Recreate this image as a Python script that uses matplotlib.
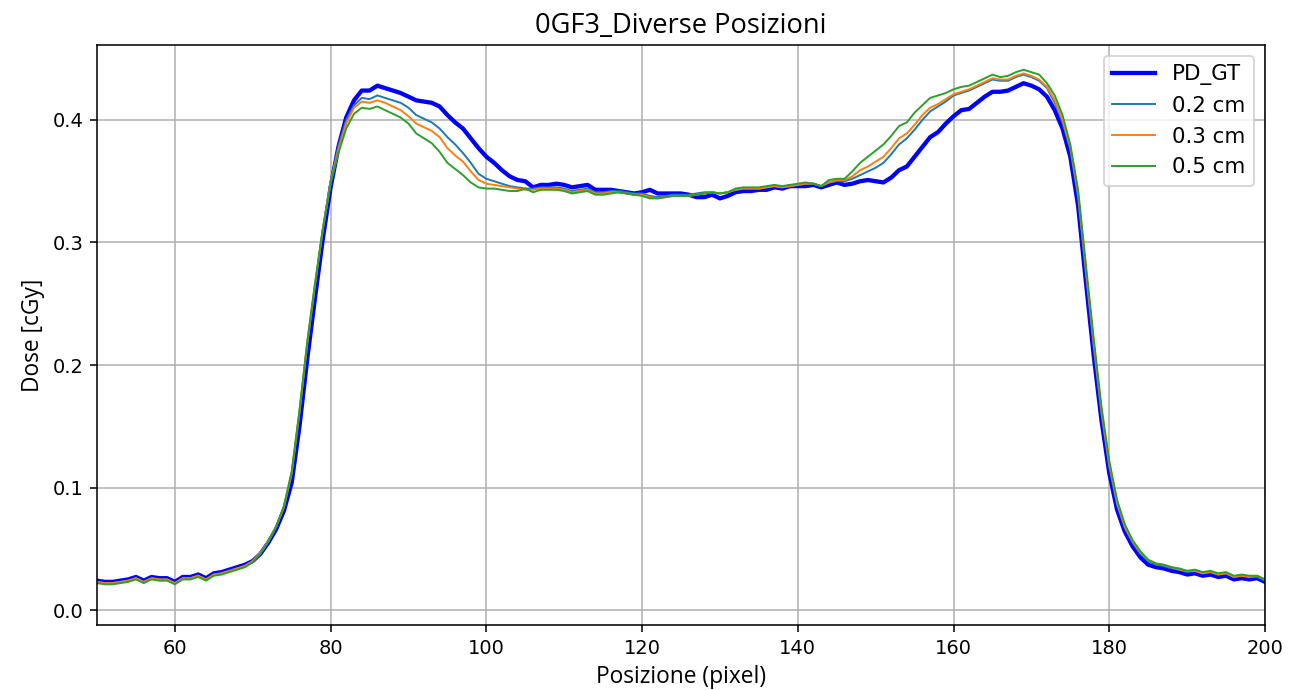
import numpy as np
import matplotlib
matplotlib.use("Agg")
import matplotlib.pyplot as plt

x = list(range(50, 201))

pd_gt = [
    0.024, 0.023, 0.023, 0.024, 0.025, 0.027, 0.024, 0.027, 0.026, 0.026,  # 50-59
    0.023, 0.027, 0.027, 0.029, 0.026, 0.030, 0.031, 0.033, 0.035, 0.037,  # 60-69
    0.040, 0.046, 0.055, 0.066, 0.081, 0.104, 0.150, 0.205, 0.255, 0.303,  # 70-79
    0.345, 0.378, 0.402, 0.416, 0.424, 0.424, 0.428, 0.426, 0.424, 0.422,  # 80-89
    0.419, 0.416, 0.415, 0.414, 0.411, 0.404, 0.398, 0.393, 0.385, 0.377,  # 90-99
    0.370, 0.365, 0.359, 0.354, 0.351, 0.350, 0.345, 0.347, 0.347, 0.348,  # 100-109
    0.347, 0.345, 0.346, 0.347, 0.343, 0.343, 0.343, 0.342, 0.341, 0.340,  # 110-119
    0.341, 0.343, 0.340, 0.340, 0.340, 0.340, 0.339, 0.337, 0.337, 0.339,  # 120-129
    0.336, 0.338, 0.341, 0.342, 0.342, 0.343, 0.343, 0.345, 0.344, 0.346,  # 130-139
    0.346, 0.346, 0.347, 0.345, 0.347, 0.349, 0.347, 0.348, 0.350, 0.351,  # 140-149
    0.350, 0.349, 0.353, 0.359, 0.362, 0.370, 0.378, 0.386, 0.390, 0.397,  # 150-159
    0.403, 0.408, 0.409, 0.414, 0.419, 0.423, 0.423, 0.424, 0.427, 0.430,  # 160-169
    0.428, 0.425, 0.419, 0.408, 0.393, 0.370, 0.330, 0.268, 0.208, 0.155,  # 170-179
    0.112, 0.082, 0.064, 0.052, 0.043, 0.037, 0.035, 0.034, 0.032, 0.031,  # 180-189
    0.029, 0.030, 0.028, 0.029, 0.027, 0.028, 0.025, 0.026, 0.025, 0.026,  # 190-199
    0.023,                                                                 # 200
]

cm02 = [
    0.023, 0.022, 0.022, 0.023, 0.024, 0.026, 0.023, 0.026, 0.025, 0.025,
    0.022, 0.026, 0.026, 0.028, 0.025, 0.029, 0.030, 0.032, 0.034, 0.036,
    0.040, 0.047, 0.056, 0.068, 0.084, 0.111, 0.161, 0.217, 0.265, 0.311,
    0.350, 0.379, 0.400, 0.412, 0.418, 0.417, 0.420, 0.418, 0.416, 0.414,
    0.410, 0.404, 0.401, 0.398, 0.393, 0.386, 0.380, 0.373, 0.365, 0.356,
    0.352, 0.350, 0.348, 0.346, 0.345, 0.344, 0.344, 0.345, 0.345, 0.345,
    0.344, 0.342, 0.343, 0.344, 0.341, 0.341, 0.342, 0.342, 0.341, 0.340,
    0.340, 0.338, 0.337, 0.338, 0.339, 0.339, 0.339, 0.340, 0.341, 0.341,
    0.340, 0.341, 0.343, 0.344, 0.344, 0.344, 0.345, 0.346, 0.345, 0.346,
    0.347, 0.348, 0.348, 0.346, 0.349, 0.350, 0.350, 0.352, 0.355, 0.358,
    0.361, 0.365, 0.372, 0.380, 0.385, 0.392, 0.400, 0.407, 0.411, 0.415,
    0.420, 0.422, 0.424, 0.427, 0.430, 0.433, 0.432, 0.432, 0.435, 0.437,
    0.435, 0.432, 0.426, 0.414, 0.398, 0.376, 0.337, 0.275, 0.215, 0.160,
    0.117, 0.086, 0.067, 0.055, 0.046, 0.040, 0.037, 0.036, 0.034, 0.033,
    0.031, 0.032, 0.030, 0.031, 0.029, 0.030, 0.027, 0.028, 0.027, 0.027,
    0.024,
]

cm03 = [
    0.023, 0.022, 0.022, 0.023, 0.024, 0.026, 0.023, 0.026, 0.025, 0.025,
    0.022, 0.026, 0.026, 0.028, 0.025, 0.029, 0.030, 0.032, 0.034, 0.036,
    0.040, 0.047, 0.056, 0.068, 0.084, 0.112, 0.162, 0.218, 0.266, 0.311,
    0.349, 0.376, 0.397, 0.410, 0.415, 0.414, 0.416, 0.414, 0.411, 0.408,
    0.403, 0.397, 0.394, 0.391, 0.386, 0.377, 0.371, 0.366, 0.358, 0.351,
    0.348, 0.347, 0.346, 0.345, 0.344, 0.343, 0.343, 0.344, 0.344, 0.344,
    0.343, 0.341, 0.342, 0.343, 0.340, 0.340, 0.341, 0.341, 0.340, 0.339,
    0.339, 0.337, 0.336, 0.337, 0.338, 0.338, 0.338, 0.339, 0.340, 0.341,
    0.340, 0.341, 0.343, 0.344, 0.344, 0.344, 0.345, 0.346, 0.345, 0.346,
    0.347, 0.348, 0.348, 0.346, 0.349, 0.351, 0.351, 0.354, 0.359, 0.362,
    0.366, 0.370, 0.377, 0.385, 0.389, 0.396, 0.404, 0.410, 0.413, 0.417,
    0.421, 0.423, 0.425, 0.428, 0.431, 0.434, 0.433, 0.433, 0.436, 0.438,
    0.436, 0.433, 0.427, 0.416, 0.400, 0.378, 0.340, 0.278, 0.218, 0.163,
    0.119, 0.088, 0.068, 0.056, 0.047, 0.041, 0.038, 0.037, 0.035, 0.033,
    0.032, 0.032, 0.030, 0.031, 0.029, 0.030, 0.027, 0.028, 0.027, 0.028,
    0.025,
]

cm05 = [
    0.022, 0.021, 0.021, 0.022, 0.023, 0.025, 0.022, 0.025, 0.024, 0.024,
    0.021, 0.025, 0.025, 0.027, 0.024, 0.028, 0.029, 0.031, 0.033, 0.035,
    0.039, 0.046, 0.056, 0.068, 0.085, 0.113, 0.163, 0.219, 0.267, 0.311,
    0.348, 0.373, 0.393, 0.405, 0.410, 0.409, 0.411, 0.408, 0.405, 0.402,
    0.397, 0.389, 0.385, 0.381, 0.374, 0.365, 0.360, 0.355, 0.349, 0.345,
    0.344, 0.344, 0.343, 0.342, 0.342, 0.344, 0.341, 0.343, 0.343, 0.343,
    0.342, 0.340, 0.341, 0.342, 0.339, 0.339, 0.340, 0.341, 0.340, 0.339,
    0.338, 0.336, 0.336, 0.337, 0.338, 0.338, 0.338, 0.339, 0.340, 0.341,
    0.340, 0.341, 0.344, 0.345, 0.345, 0.345, 0.346, 0.347, 0.346, 0.347,
    0.348, 0.349, 0.348, 0.346, 0.351, 0.352, 0.352, 0.358, 0.365, 0.370,
    0.375, 0.380, 0.387, 0.395, 0.398, 0.406, 0.412, 0.418, 0.420, 0.422,
    0.425, 0.427, 0.428, 0.431, 0.434, 0.437, 0.435, 0.436, 0.439, 0.441,
    0.439, 0.437, 0.430, 0.420, 0.404, 0.380, 0.343, 0.282, 0.222, 0.166,
    0.122, 0.090, 0.070, 0.057, 0.048, 0.041, 0.038, 0.037, 0.035, 0.034,
    0.032, 0.033, 0.031, 0.032, 0.030, 0.031, 0.028, 0.029, 0.028, 0.028,
    0.025,
]

DPI = 140
fig = plt.figure(figsize=(1299 / DPI, 690 / DPI), dpi=DPI)
ax = fig.add_axes([0.0747, 0.0942, 0.8991, 0.8406])

ax.plot(x, pd_gt, color="blue", linewidth=2.2, label="PD_GT")
ax.plot(x, cm02, color="C0", linewidth=1.0, label="0.2 cm")
ax.plot(x, cm03, color="C1", linewidth=1.0, label="0.3 cm")
ax.plot(x, cm05, color="C2", linewidth=1.0, label="0.5 cm")

ax.set_xlim(50, 200)
ax.set_ylim(-0.0122, 0.4612)
ax.set_xticks([60, 80, 100, 120, 140, 160, 180, 200])
ax.set_yticks([0.0, 0.1, 0.2, 0.3, 0.4])
ax.grid(True)
label_font = ["Open Sans", "DejaVu Sans"]
ax.set_title("0GF3_Diverse Posizioni", fontsize=14, family=label_font)
ax.set_xlabel("Posizione (pixel)", fontsize=11.7, family=label_font)
ax.set_ylabel("Dose [cGy]", fontsize=11.7, family=label_font)
ax.tick_params(labelsize=10)
ax.legend(loc="upper right", fontsize=11)

fig.savefig("out.png", dpi=DPI)
